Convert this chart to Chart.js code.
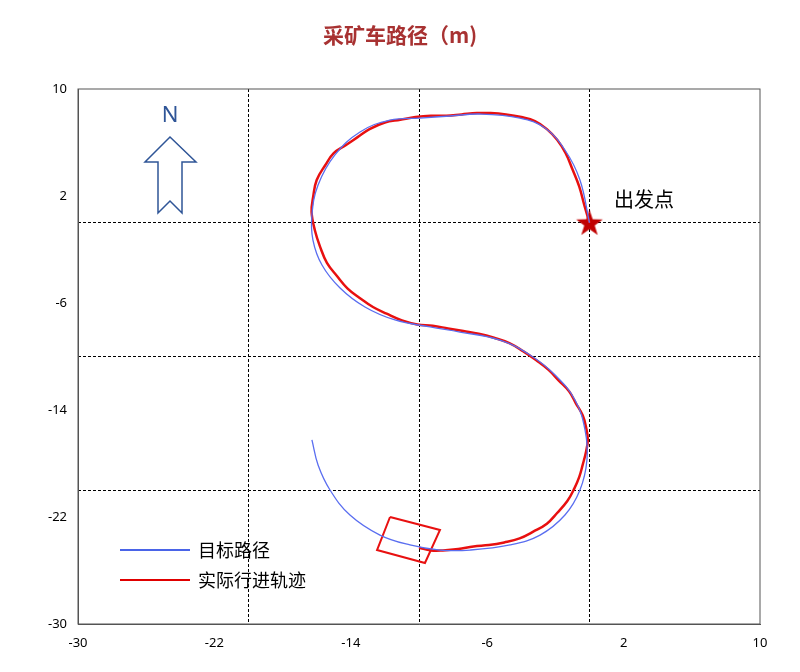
<!DOCTYPE html><html><head><meta charset="utf-8">
<script src="https://cdn.jsdelivr.net/npm/chart.js@4/dist/chart.umd.min.js"></script>
<style>body{margin:0;background:#fff}#w{width:800px;height:672px}</style></head><body><div id="w"><canvas id="c"></canvas></div>
<script>
const targetX=[0,-0.56,-1.44,-2.61,-4.08,-6.42,-8.18,-9.94,-11.7,-13.46,-14.93,-15.92,-16.28,-16.22,-15.69,-14.63,-13.17,-11.41,-9.35,-7.6,-5.25,-3.49,-2.02,-0.85,-0.26,-0.15,-0.56,-1.44,-2.9,-4.66,-7.0,-8.77,-10.53,-12.29,-14.05,-15.22,-15.92,-16.28];
const targetY=[0,3.2,5.44,7.08,7.83,8.13,7.98,7.83,7.68,6.79,5.07,2.82,0.58,-1.29,-3.16,-4.88,-6.3,-7.27,-7.79,-8.17,-8.77,-9.89,-11.38,-13.25,-15.5,-17.74,-19.98,-21.85,-23.35,-24.09,-24.47,-24.47,-24.09,-23.35,-21.85,-19.98,-18.11,-16.24];
const actualX=[0,-0.3,-0.6,-1.0,-1.4,-1.9,-2.5,-3.2,-4.0,-4.9,-5.8,-6.6,-7.5,-8.4,-9.3,-10.2,-11.1,-12.0,-12.9,-13.6,-14.3,-15.0,-15.5,-16.0,-16.2,-16.3,-16.1,-15.8,-15.4,-14.8,-14.2,-13.5,-12.7,-11.9,-11.0,-10.1,-9.2,-8.3,-7.4,-6.5,-5.6,-4.7,-3.9,-3.1,-2.4,-1.8,-1.2,-0.8,-0.4,-0.2,-0.1,-0.2,-0.4,-0.6,-0.9,-1.3,-1.9,-2.5,-3.3,-4.1,-5.0,-5.9,-6.8,-7.7,-8.6,-9.3,-10.0];
const actualY=[0,1.3,2.7,4.0,5.2,6.2,7.0,7.6,7.9,8.1,8.2,8.2,8.1,8.0,8.0,7.9,7.7,7.5,7.0,6.4,5.8,5.2,4.3,3.2,2.0,0.8,-0.6,-1.8,-3.0,-4.0,-4.9,-5.6,-6.3,-6.8,-7.3,-7.6,-7.7,-7.9,-8.1,-8.3,-8.6,-9.0,-9.6,-10.3,-11.0,-11.8,-12.6,-13.5,-14.4,-15.3,-16.2,-17.1,-18.1,-19.0,-19.9,-20.8,-21.7,-22.5,-23.1,-23.6,-23.9,-24.1,-24.2,-24.4,-24.5,-24.5,-24.3];
const boxX=[-11.7,-8.77,-9.65,-12.46,-11.7];
const boxY=[-22.0,-22.97,-25.44,-24.47,-22.0];
const xTicks=[-30,-22,-14,-6,2,10];
const yTicks=[-30,-22,-14,-6,2,10];
const pts=(xs,ys)=>xs.map((x,i)=>({x,y:ys[i]}));
const star=document.createElement('canvas');star.width=30;star.height=30;
{const g=star.getContext('2d');g.fillStyle='#c00000';g.beginPath();for(let i=0;i<10;i++){const r=i%2?5.5:14,a=-Math.PI/2+i*Math.PI/5;g.lineTo(15+r*Math.cos(a),16+r*Math.sin(a));}g.closePath();g.fill();}
const deco={id:'deco',afterDraw(ch){const g=ch.ctx;const a=ch.chartArea;g.save();
g.strokeStyle='#555';g.lineWidth=1;g.strokeRect(a.left,a.top,a.right-a.left,a.bottom-a.top);
g.fillStyle='#a83232';g.font='bold 21px "Noto Sans CJK SC"';g.textAlign='center';g.textBaseline='middle';g.fillText('采矿车路径（m)',400,35);
g.fillStyle='#000';g.font='20px "Noto Sans CJK SC"';g.textAlign='left';g.fillText('出发点',614,199);
g.font='18px "Noto Sans CJK SC"';
g.lineWidth=2;g.strokeStyle='#4a64e8';g.beginPath();g.moveTo(120,550);g.lineTo(190,550);g.stroke();
g.strokeStyle='#e00000';g.beginPath();g.moveTo(120,580);g.lineTo(190,580);g.stroke();
g.fillText('目标路径',198,550);g.fillText('实际行进轨迹',198,580);
g.fillStyle='#2f5597';g.font='22px "Noto Sans"';g.textAlign='center';g.fillText('N',170,116);
g.strokeStyle='#2f5597';g.lineWidth=1.5;g.beginPath();g.moveTo(170,137);g.lineTo(196,162);g.lineTo(182,162);g.lineTo(182,213);g.lineTo(170,201);g.lineTo(158,213);g.lineTo(158,162);g.lineTo(145,162);g.closePath();g.stroke();
g.restore();}};
new Chart(document.getElementById('c'),{type:'scatter',data:{datasets:[
{data:pts(targetX,targetY),showLine:true,borderColor:'#5a6ef0',borderWidth:1.3,pointRadius:0,tension:0.4},
{data:pts(actualX,actualY),showLine:true,borderColor:'#e81010',borderWidth:2.5,pointRadius:0,tension:0.4},
{data:pts(boxX,boxY),showLine:true,borderColor:'#e81010',borderWidth:2,pointRadius:0,tension:0},
{data:[{x:0,y:0}],pointStyle:star,pointRadius:15}
]},plugins:[deco],options:{responsive:true,maintainAspectRatio:false,animation:false,
layout:{padding:{top:89,right:40,left:0,bottom:0}},
plugins:{legend:{display:false},tooltip:{enabled:false}},
scales:{
x:{min:-30,max:10,afterBuildTicks:s=>{s.ticks=xTicks.map(v=>({value:v}))},ticks:{color:'#000',font:{size:13,family:'Noto Sans'},maxRotation:0},grid:{display:false},border:{color:'#555'},afterFit:s=>{s.height=48}},
y:{min:-30,max:10,afterBuildTicks:s=>{s.ticks=yTicks.map(v=>({value:v}))},ticks:{color:'#000',font:{size:13,family:'Noto Sans'}},grid:{display:false},border:{color:'#555'},afterFit:s=>{s.width=78}},
x2:{position:'top',min:-30,max:10,afterBuildTicks:s=>{s.ticks=[-20,-10,0].map(v=>({value:v}))},ticks:{display:false},grid:{color:'#000',drawTicks:false},border:{display:false,dash:[3,2]},afterFit:s=>{s.height=0}},
y2:{position:'right',min:-30,max:10,afterBuildTicks:s=>{s.ticks=[-20,-10,0].map(v=>({value:v}))},ticks:{display:false},grid:{color:'#000',drawTicks:false},border:{display:false,dash:[3,2]},afterFit:s=>{s.width=0}}
}}});
</script></body></html>
